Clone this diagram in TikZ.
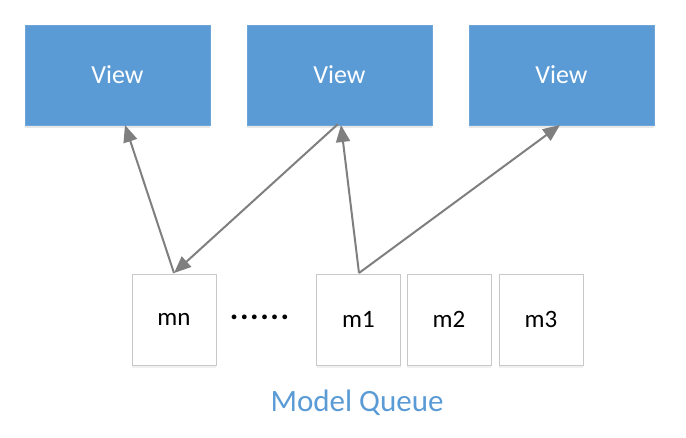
\documentclass[tikz,border=0pt]{standalone}
\usepackage{fontspec}
\setmainfont{Carlito}
\usetikzlibrary{shadows,arrows.meta}
\definecolor{viewblue}{HTML}{5B9BD5}
\definecolor{viewedge}{HTML}{6FA6D8}
\definecolor{arrowgray}{HTML}{7F7F7F}
\definecolor{boxedge}{HTML}{C8C8C8}
\begin{document}
\begin{tikzpicture}[x=1pt,y=-1pt,
  viewbox/.style={draw=viewedge, fill=viewblue, line width=0.8pt, minimum width=185pt, minimum height=100pt, inner sep=0pt, text=white, font=\fontsize{26}{28}\selectfont, drop shadow={opacity=0.18, shadow xshift=0pt, shadow yshift=-3pt}},
  qbox/.style={draw=boxedge, fill=white, line width=0.8pt, minimum width=84pt, minimum height=91pt, inner sep=0pt, font=\fontsize{25}{28}\selectfont, drop shadow={opacity=0.12, shadow xshift=0pt, shadow yshift=-3pt}},
  link/.style={draw=arrowgray, line width=2pt, -{Triangle[length=17pt,width=14pt]}}
]
\useasboundingbox (0,0) rectangle (686,437);
\node[viewbox] (v1) at (117.5,75) {View};
\node[viewbox] (v2) at (339.5,75) {View};
\node[viewbox] (v3) at (561.5,75) {View};
\node[qbox] (mn) at (174,319.5) {mn};
\node[qbox] (m1) at (358.5,319.5) {m1};
\node[qbox] (m2) at (449,319.5) {m2};
\node[qbox] (m3) at (541,319.5) {m3};
\node[font=\fontsize{32}{34}\selectfont\bfseries, inner sep=0pt] (dots) at (259.5,317) {.\hspace{1.6pt}.\hspace{1.6pt}.\hspace{1.6pt}.\hspace{1.6pt}.\hspace{1.6pt}.};
\node[text=viewblue, font=\fontsize{31}{34}\selectfont, inner sep=0pt] (lbl) at (357,403) {Model Queue};
\coordinate (mnT) at (174,273);
\coordinate (m1T) at (359,273);
\coordinate (v1B) at (125,125);
\coordinate (v2B) at (338,124);
\coordinate (v2Bb) at (341,125);
\coordinate (v3B) at (560,125);
\draw[link] (mnT) -- (v1B);
\draw[link] (v2B) -- (mnT);
\draw[link] (m1T) -- (v2Bb);
\draw[link] (m1T) -- (v3B);
\end{tikzpicture}
\end{document}
